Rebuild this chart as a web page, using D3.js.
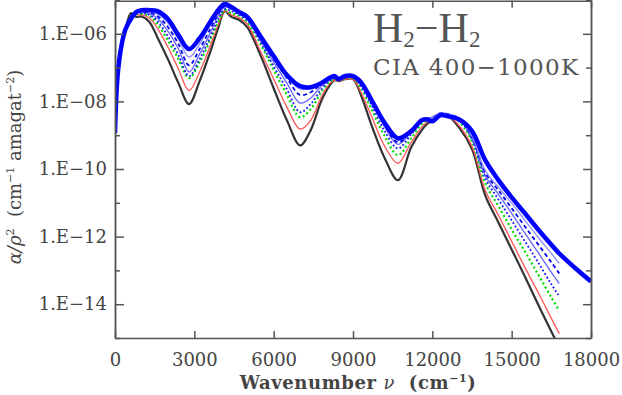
<!DOCTYPE html>
<html>
<head>
<meta charset="utf-8">
<script src="https://cdn.jsdelivr.net/npm/d3@7"></script>
<style>
  body { margin: 0; background: #fff; }
  svg { display: block; }
  .axis text { font-family: "DejaVu Serif", serif; font-size: 18px; fill: #444; }
  .axis path, .axis line { stroke: #555; stroke-width: 1.5; }
</style>
</head>
<body>
<div id="chart"></div>
<script>
// wavenumber grid (cm-1), shared by all temperatures
var wavenumber = [0, 100, 250, 400, 600, 800, 1000, 1300, 1600, 2000, 2400, 2800, 3200, 3600, 3900,
  4150, 4400, 4700, 5000, 5500, 6000, 6500, 7000, 7400, 7800, 8100, 8300, 8450, 8700, 9000, 9300,
  9700, 10200, 10700, 11200, 11600, 11800, 12000, 12300, 12600, 13000, 13500, 14000, 14500, 15000,
  15500, 16000, 16500, 16800];
// the hottest curve continues to the edge
var wavenumberLong = wavenumber.concat([17400, 18000]);

// log10(alpha/rho^2)
var logBlack = [-8.94, -7.22, -6.33, -5.86, -5.39, -5.50, -5.49, -5.65, -6.10, -6.75, -7.46, -8.08, -7.40, -6.54, -5.83,
  -5.33, -5.50, -5.59, -5.80, -6.63, -7.61, -8.56, -9.30, -8.85, -7.99, -7.55, -7.37, -7.40, -7.34, -7.34, -7.81,
  -8.70, -9.68, -10.33, -9.36, -8.85, -8.67, -8.56, -8.41, -8.44, -8.76, -9.41, -10.78, -11.58, -12.38,
  -13.18, -14.01, -14.81, -15.28];
var logRed = [-8.94, -7.22, -6.33, -5.86, -5.53, -5.44, -5.44, -5.53, -5.83, -6.39, -7.04, -7.68, -7.13, -6.36, -5.74,
  -5.33, -5.44, -5.53, -5.71, -6.51, -7.34, -8.17, -8.82, -8.56, -7.87, -7.49, -7.37, -7.40, -7.34, -7.34, -7.73,
  -8.44, -9.33, -9.83, -9.21, -8.76, -8.61, -8.53, -8.41, -8.44, -8.70, -9.33, -10.63, -11.37, -12.14,
  -12.91, -13.65, -14.42, -14.87];
var logGreen = [-8.94, -7.22, -6.33, -5.86, -5.53, -5.41, -5.41, -5.47, -5.71, -6.19, -6.75, -7.31, -6.84, -6.19, -5.65,
  -5.30, -5.39, -5.47, -5.65, -6.30, -7.07, -7.81, -8.47, -8.23, -7.73, -7.43, -7.34, -7.37, -7.31, -7.31, -7.61,
  -8.23, -9.03, -9.59, -9.09, -8.67, -8.56, -8.50, -8.38, -8.41, -8.59, -9.18, -10.42, -11.10, -11.79,
  -12.44, -13.12, -13.80, -14.19];
var logBlueDot = [-8.94, -7.22, -6.33, -5.86, -5.56, -5.39, -5.39, -5.44, -5.62, -6.07, -6.63, -7.25, -6.75, -6.10, -5.56,
  -5.27, -5.33, -5.44, -5.59, -6.24, -6.96, -7.64, -8.32, -8.08, -7.64, -7.40, -7.31, -7.34, -7.28, -7.28, -7.55,
  -8.11, -8.88, -9.39, -8.97, -8.61, -8.53, -8.47, -8.35, -8.38, -8.53, -9.12, -10.27, -10.90, -11.52,
  -12.14, -12.76, -13.41, -13.77];
var logBlueMid = [-8.94, -7.22, -6.33, -5.86, -5.56, -5.37, -5.36, -5.40, -5.53, -5.92, -6.45, -7.13, -6.60, -5.98, -5.47,
  -5.21, -5.27, -5.41, -5.56, -6.19, -6.84, -7.46, -8.05, -7.90, -7.55, -7.37, -7.28, -7.31, -7.28, -7.28, -7.49,
  -7.99, -8.76, -9.27, -8.91, -8.59, -8.50, -8.47, -8.35, -8.38, -8.50, -9.09, -10.19, -10.75, -11.31,
  -11.90, -12.47, -13.06, -13.39];
var logBlueDash = [-8.94, -7.22, -6.33, -5.86, -5.56, -5.36, -5.34, -5.37, -5.47, -5.80, -6.30, -6.93, -6.45, -5.86, -5.41,
  -5.18, -5.24, -5.39, -5.53, -6.16, -6.75, -7.31, -7.81, -7.73, -7.49, -7.34, -7.25, -7.31, -7.25, -7.25, -7.46,
  -7.96, -8.70, -9.21, -8.88, -8.56, -8.50, -8.47, -8.35, -8.38, -8.50, -9.06, -10.10, -10.63, -11.16,
  -11.70, -12.23, -12.76, -13.09];
var logBlueLight = [-8.94, -7.22, -6.33, -5.86, -5.56, -5.36, -5.33, -5.34, -5.41, -5.68, -6.16, -6.69, -6.30, -5.74, -5.36,
  -5.15, -5.21, -5.36, -5.50, -6.10, -6.69, -7.25, -7.64, -7.61, -7.46, -7.31, -7.25, -7.31, -7.25, -7.25, -7.43,
  -7.96, -8.67, -9.15, -8.85, -8.56, -8.50, -8.47, -8.35, -8.38, -8.50, -9.03, -10.04, -10.54, -11.01,
  -11.52, -12.02, -12.50, -12.79];
var logBlueThick = [-8.94, -7.22, -6.33, -5.86, -5.56, -5.36, -5.30, -5.30, -5.33, -5.56, -6.04, -6.45, -6.13, -5.65, -5.30,
  -5.12, -5.21, -5.36, -5.50, -6.07, -6.66, -7.22, -7.55, -7.58, -7.46, -7.31, -7.25, -7.34, -7.25, -7.25, -7.43,
  -7.96, -8.64, -9.09, -8.88, -8.56, -8.53, -8.59, -8.41, -8.44, -8.53, -8.88, -9.74, -10.33, -10.84,
  -11.31, -11.79, -12.24, -12.50, -12.93, -13.33];

var xTicks = [0, 3000, 6000, 9000, 12000, 15000, 18000];
var yMajor = [1e-14, 1e-12, 1e-10, 1e-8, 1e-6];
var yMinor = [1e-15, 1e-13, 1e-11, 1e-9, 1e-7, 1e-5];

var width = 622, height = 395;
var margin = {top: 0, right: 31, bottom: 57, left: 115};

var svg = d3.select('#chart').append('svg')
  .attr('width', width)
  .attr('height', height);

var xScale = d3.scaleLinear()
  .domain([0, 18000])
  .range([margin.left, width - margin.right]);

var yScale = d3.scaleLog()
  .domain([1e-15, 1e-5])
  .range([height - margin.bottom, margin.top]);

svg.append('clipPath').attr('id', 'plot')
  .append('rect')
  .attr('x', xScale(0)).attr('y', yScale(1e-5))
  .attr('width', xScale(18000) - xScale(0))
  .attr('height', yScale(1e-15) - yScale(1e-5));

var series = [
  {x: wavenumber, v: logBlack, color: '#333', w: 2.2, dash: null},
  {x: wavenumber, v: logRed, color: '#ff5555', w: 1.3, dash: null},
  {x: wavenumber, v: logGreen, color: '#00dd00', w: 2.2, dash: '2,2.6'},
  {x: wavenumber, v: logBlueDot, color: '#1414ff', w: 1.8, dash: '1.8,2.2'},
  {x: wavenumber, v: logBlueMid, color: '#6464ff', w: 1.3, dash: null},
  {x: wavenumber, v: logBlueDash, color: '#0000ee', w: 1.8, dash: '4,3'},
  {x: wavenumber, v: logBlueLight, color: '#8c8cff', w: 1.3, dash: null},
  {x: wavenumberLong, v: logBlueThick, color: '#0000ff', w: 4.5, dash: null}
];

var line = d3.line()
  .x(function(d) { return xScale(d[0]); })
  .y(function(d) { return yScale(Math.pow(10, d[1])); })
  .curve(d3.curveCatmullRom.alpha(0.5));

svg.append('g')
  .attr('clip-path', 'url(#plot)')
  .selectAll('path')
  .data(series)
  .enter()
  .append('path')
  .attr('fill', 'none')
  .attr('stroke', function(d) { return d.color; })
  .attr('stroke-width', function(d) { return d.w; })
  .attr('stroke-dasharray', function(d) { return d.dash; })
  .attr('stroke-linejoin', 'round')
  .attr('d', function(d) { return line(d.x.map(function(xv, i) { return [xv, d.v[i]]; })); });

// axes, ticks pointing inwards
var fmt = function(d) {
  var e = -Math.round(Math.log10(d));
  return '1.E\u2212' + (e < 10 ? '0' + e : e);
};

svg.append('g').attr('class', 'axis')
  .attr('transform', 'translate(0,' + yScale(1e-15) + ')')
  .call(d3.axisBottom(xScale).tickValues(xTicks).tickSize(-7).tickSizeOuter(0).tickPadding(15).tickFormat(d3.format('d')));

svg.append('g').attr('class', 'axis')
  .attr('transform', 'translate(0,' + (yScale(1e-5) + 0.75) + ')')
  .call(d3.axisTop(xScale).tickValues(xTicks).tickSize(-7).tickSizeOuter(0).tickFormat(''));

svg.append('g').attr('class', 'axis')
  .attr('transform', 'translate(' + xScale(0) + ',0)')
  .call(d3.axisLeft(yScale).tickValues(yMajor).tickSize(-9).tickSizeOuter(0).tickPadding(8).tickFormat(fmt));

svg.append('g').attr('class', 'axis')
  .attr('transform', 'translate(' + xScale(0) + ',0)')
  .call(d3.axisLeft(yScale).tickValues(yMinor).tickSize(-5).tickSizeOuter(0).tickFormat(''));

svg.append('g').attr('class', 'axis')
  .attr('transform', 'translate(' + xScale(18000) + ',0)')
  .call(d3.axisRight(yScale).tickValues(yMajor).tickSize(-8).tickSizeOuter(0).tickFormat(''));

svg.append('g').attr('class', 'axis')
  .attr('transform', 'translate(' + xScale(18000) + ',0)')
  .call(d3.axisRight(yScale).tickValues(yMinor).tickSize(-5).tickSizeOuter(0).tickFormat(''));

// axis titles
var xt = svg.append('text')
  .attr('x', 358).attr('y', 389)
  .attr('text-anchor', 'middle')
  .style('font-family', '"DejaVu Serif", serif')
  .style('font-size', '18px')
  .style('font-weight', 'bold')
  .style('letter-spacing', '0.6px')
  .style('fill', '#444');
xt.append('tspan').text('Wavenumber ');
xt.append('tspan').style('font-style', 'italic').style('font-weight', 'normal').text('\u03bd');
xt.append('tspan').text('\u00a0 (cm');
xt.append('tspan').attr('dy', -7).style('font-size', '11px').text('\u22121');
xt.append('tspan').attr('dy', 7).text(')');

var yt = svg.append('text')
  .attr('transform', 'translate(21,167) rotate(-90)')
  .attr('text-anchor', 'middle')
  .style('font-family', '"DejaVu Serif", serif')
  .style('font-size', '18px')
  .style('fill', '#444');
yt.append('tspan').style('font-style', 'italic').text('\u03b1/\u03c1');
yt.append('tspan').attr('dy', -7).style('font-size', '11px').text('2');
yt.append('tspan').attr('dy', 7).text('\u00a0 (cm');
yt.append('tspan').attr('dy', -7).style('font-size', '11px').text('\u22121');
yt.append('tspan').attr('dy', 7).text(' amagat');
yt.append('tspan').attr('dy', -7).style('font-size', '11px').text('\u22122');
yt.append('tspan').attr('dy', 7).text(')');

// annotation
var t1 = svg.append('text')
  .attr('x', 373).attr('y', 42)
  .style('font-family', '"Liberation Serif", serif')
  .style('font-size', '42px')
  .style('fill', '#555');
t1.append('tspan').text('H');
t1.append('tspan').attr('dy', 5).style('font-size', '23px').text('2');
t1.append('tspan').attr('dy', -5).text('\u2212H');
t1.append('tspan').attr('dy', 5).style('font-size', '23px').text('2');

svg.append('text')
  .attr('x', 373).attr('y', 75)
  .style('font-family', '"DejaVu Serif", serif')
  .style('font-size', '23px')
  .style('letter-spacing', '1.3px')
  .style('fill', '#555')
  .text('CIA 400\u22121000K');
</script>
</body>
</html>
